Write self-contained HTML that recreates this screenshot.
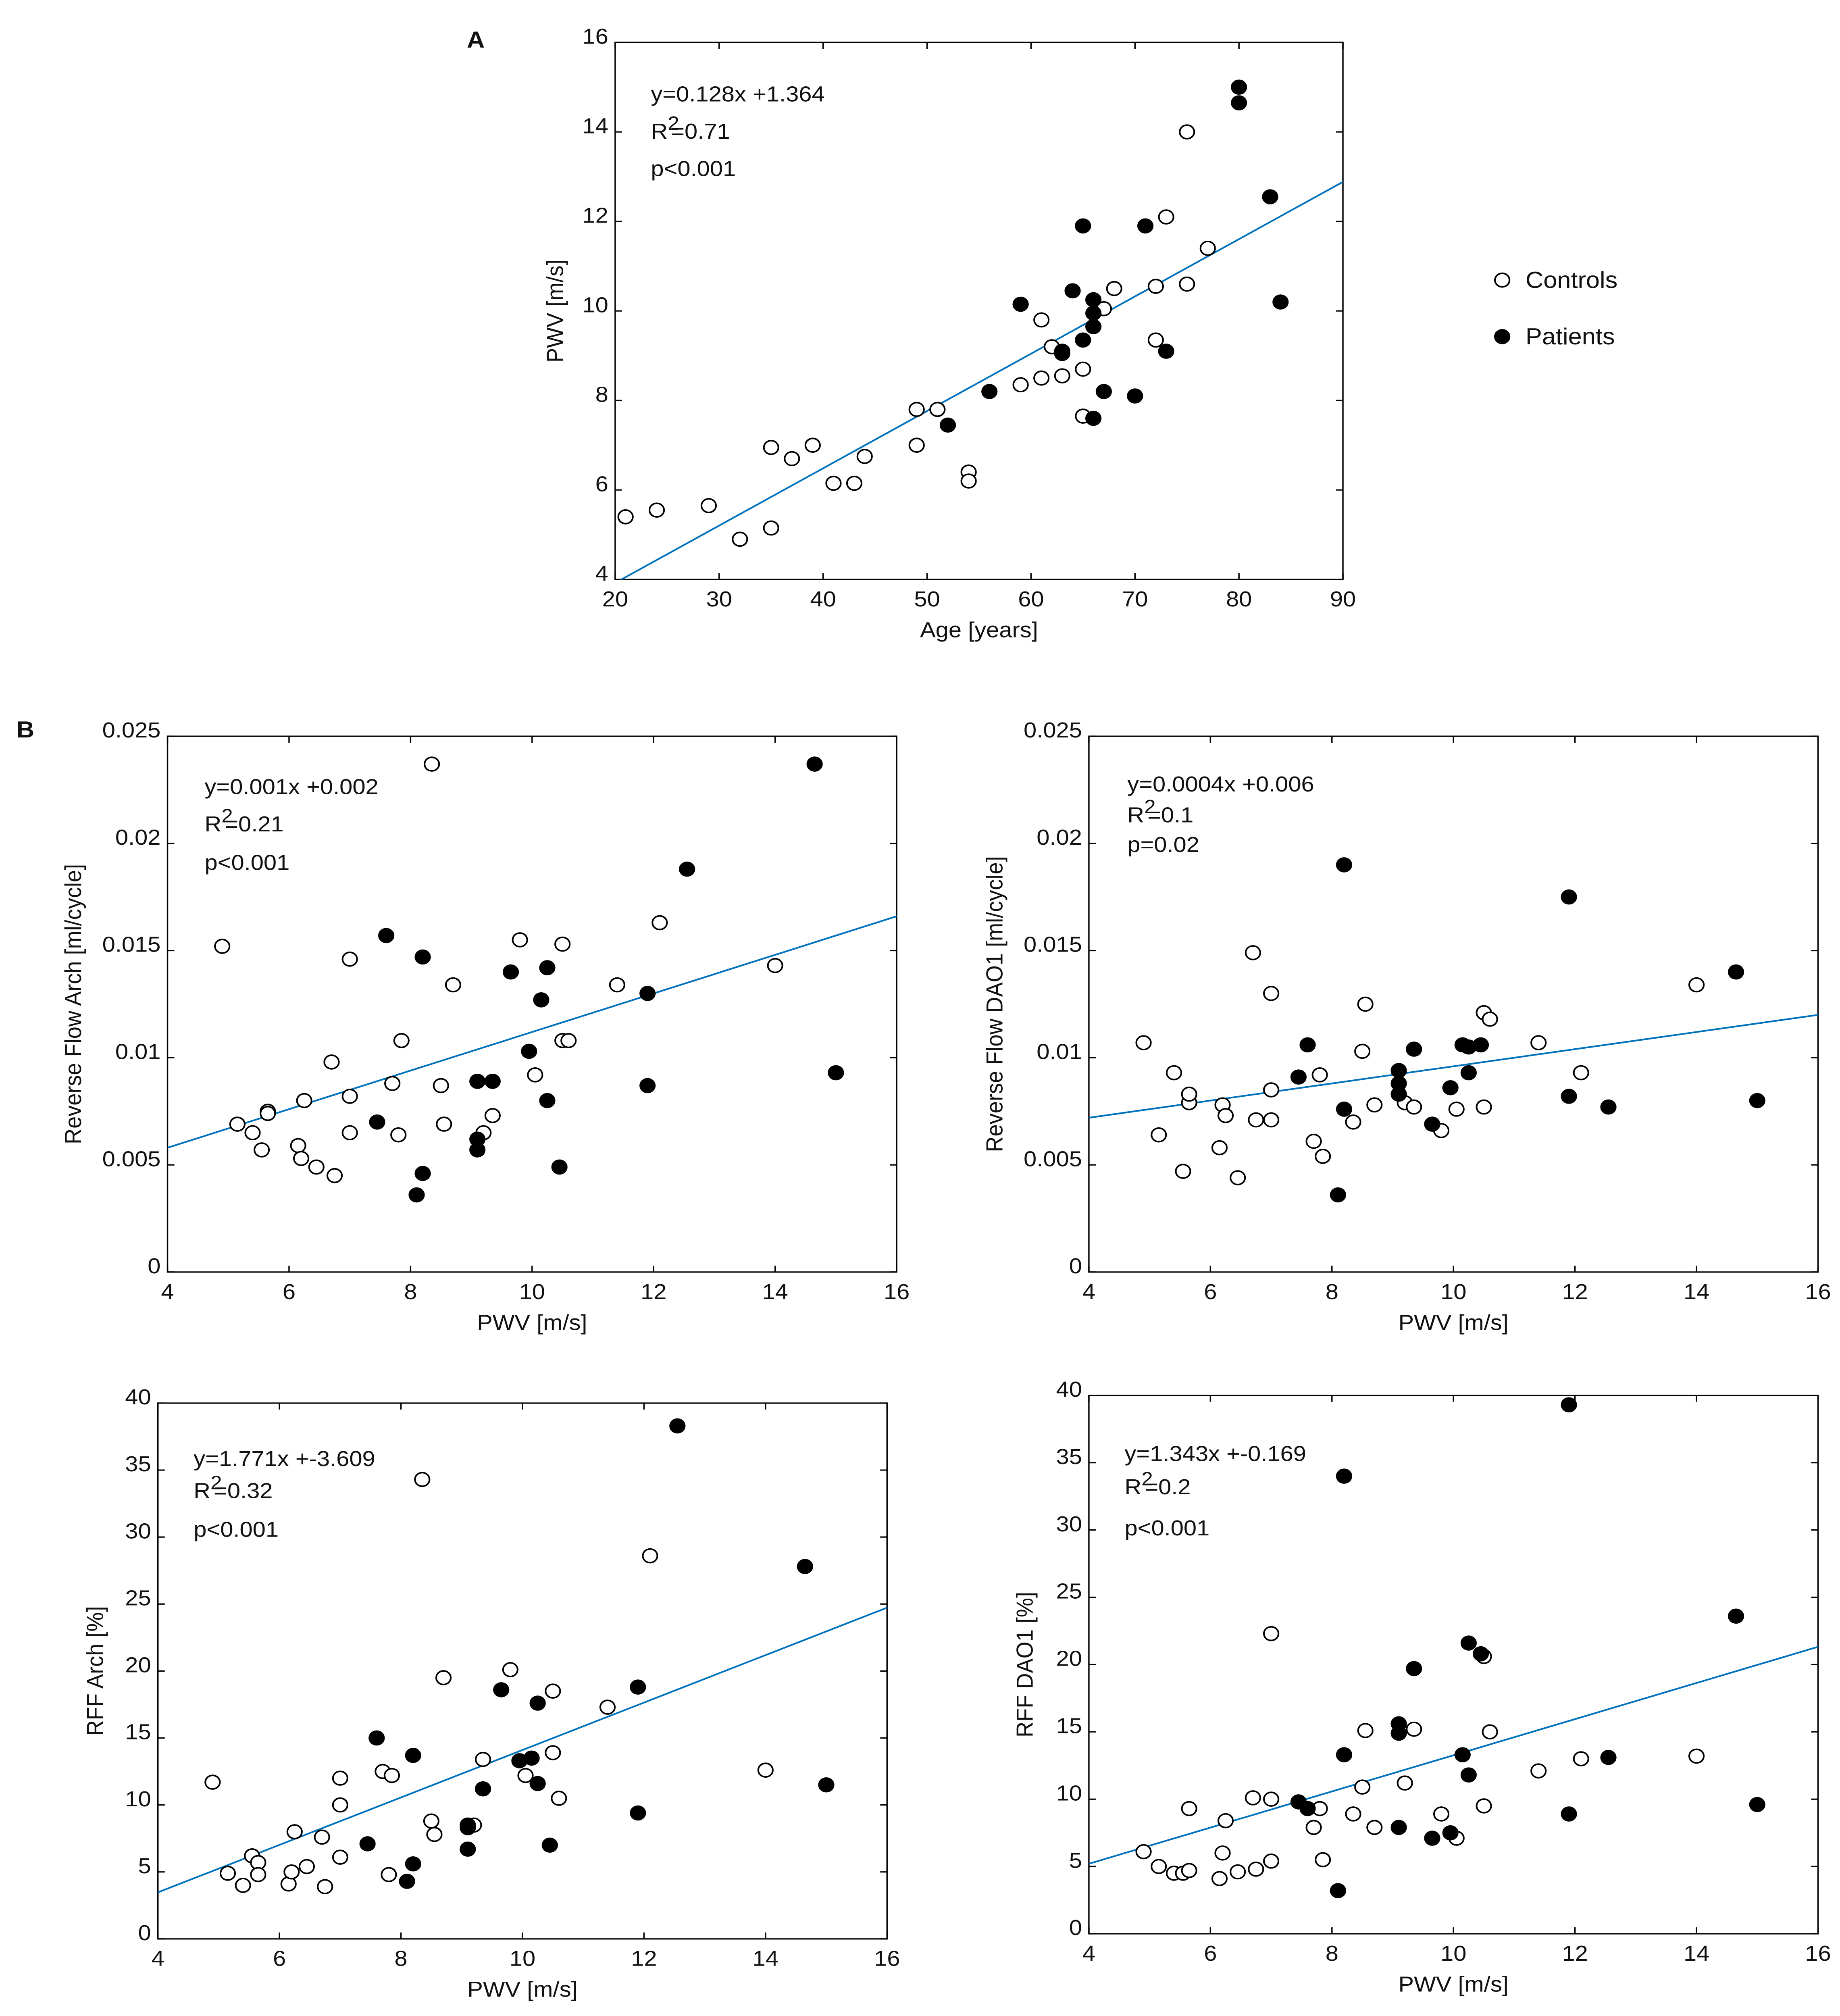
<!DOCTYPE html>
<html><head><meta charset="utf-8"><style>
html,body{margin:0;padding:0;background:#fff;overflow:hidden;width:100vw;height:100vh;}
svg{display:block;width:100vw;height:100vh;}
text{font-family:"Liberation Sans",Arial,sans-serif;fill:#111;}
</style></head><body>
<svg id="fig" viewBox="0 0 1340 1569" preserveAspectRatio="none" xmlns="http://www.w3.org/2000/svg">
<text x="340" y="37" font-size="18" font-weight="bold">A</text>
<text x="12" y="574" font-size="18" font-weight="bold">B</text>
<g>
<circle cx="1094" cy="218" r="5.3" fill="#fff" stroke="#000" stroke-width="1.2"/>
<text x="1111" y="224" font-size="18">Controls</text>
<circle cx="1094" cy="262" r="5.3" fill="#000" stroke="#000" stroke-width="1.2"/>
<text x="1111" y="268" font-size="18">Patients</text>
</g>
</svg>
<script>
// Panel A data
const aCtrlX=[21,24,29,32,35,35,37,39,41,43,44,49,49,51,54,54,59,61,61,62,63,65,65,67,68,72,72,73,75,75,77];
const aCtrlY=[5.4,5.55,5.65,4.9,5.15,6.95,6.7,7.0,6.15,6.15,6.75,7.8,7.0,7.8,6.4,6.2,8.35,9.8,8.5,9.2,8.55,8.7,7.65,10.05,10.5,10.55,9.35,12.1,14.0,10.6,11.4];
const aPatX=[52,56,59,63,63,64,65,65,66,66,66,66,67,70,71,73,80,80,83,84];
const aPatY=[7.45,8.2,10.15,9.1,9.05,10.45,11.9,9.35,10.25,9.95,9.65,7.6,8.2,8.1,11.9,9.1,15.0,14.65,12.55,10.2];
const aFit=[0.128,1.364];
const aXTicks=[20,30,40,50,60,70,80,90];
const aYTicks=[4,6,8,10,12,14,16];
// PWV (shared for panels B)
const ctrlPWV=[4.9,5.15,5.4,5.55,5.65,5.65,6.15,6.2,6.25,6.45,6.7,6.75,7.0,7.0,7.0,7.7,7.8,7.85,8.35,8.5,8.55,8.7,9.2,9.35,9.8,10.05,10.5,10.5,10.6,11.4,12.1,14.0];
const patPWV=[7.45,7.6,8.1,8.2,8.2,9.1,9.1,9.1,9.35,9.65,9.95,10.15,10.25,10.25,10.45,11.9,11.9,12.55,14.65,15.0];
const b1Ctrl=[0.0152,0.0069,0.0065,0.0057,0.0075,0.0074,0.0059,0.0053,0.0080,0.0049,0.0098,0.0045,0.0146,0.0082,0.0065,0.0088,0.0064,0.0108,0.0237,0.0087,0.0069,0.0134,0.0065,0.0073,0.0155,0.0092,0.0153,0.0108,0.0108,0.0134,0.0163,0.0143];
const b1Pat=[0.0070,0.0157,0.0036,0.0046,0.0147,0.0089,0.0062,0.0057,0.0089,0.0140,0.0103,0.0127,0.0142,0.0080,0.0049,0.0130,0.0087,0.0188,0.0237,0.0093];
const b2Ctrl=[0.0107,0.0064,0.0093,0.0047,0.0079,0.0083,0.0058,0.0078,0.0073,0.0044,0.0149,0.0071,0.0130,0.0085,0.0071,0.0061,0.0092,0.0054,0.0070,0.0103,0.0125,0.0078,0.0079,0.0077,0.0066,0.0076,0.0121,0.0077,0.0118,0.0107,0.0093,0.0134];
const b2Pat=[0.0091,0.0106,0.0036,0.0190,0.0076,0.0094,0.0088,0.0083,0.0104,0.0069,0.0086,0.0106,0.0093,0.0105,0.0106,0.0175,0.0082,0.0077,0.0140,0.0080];
const b3Ctrl=[11.7,4.9,4.0,6.2,5.7,4.8,4.1,5.0,8.0,5.4,7.6,3.9,12.0,10.0,6.1,12.5,4.8,12.2,34.3,8.8,7.8,19.5,8.5,13.4,20.1,12.2,13.9,18.5,10.5,17.3,28.6,12.6];
const b3Pat=[7.1,15.0,4.3,13.7,5.6,6.7,8.3,8.5,11.2,18.6,13.3,13.5,17.6,11.6,7.0,18.8,9.4,38.3,27.8,11.5];
const b4Ctrl=[6.1,5.0,4.5,4.5,9.3,4.7,4.1,6.0,8.4,4.6,10.1,4.8,22.3,10.0,5.4,7.9,9.3,5.5,8.9,10.9,15.1,7.9,11.2,15.2,8.9,7.1,20.6,9.5,15.0,12.1,13.0,13.2];
const b4Pat=[9.8,9.3,3.2,34.0,13.3,15.6,14.9,7.9,19.7,7.1,7.5,13.3,11.8,21.6,20.8,39.3,8.9,13.1,23.6,9.6];
const b1Fit=[0.0009,0.0022];
const b2Fit=[0.0004,0.0056];
const b3Fit=[1.771,-3.609];
const b4Fit=[1.343,-0.169];
const pwvTicks=[4,6,8,10,12,14,16];
const flowTicks=[0,0.005,0.01,0.015,0.02,0.025];
const flowTickLabels=["0","0.005","0.01","0.015","0.02","0.025"];
const rffTicks=[0,5,10,15,20,25,30,35,40];

const NS="http://www.w3.org/2000/svg";
const svg=document.getElementById('fig');
function mk(tag,attrs,parent){const e=document.createElementNS(NS,tag);for(const k in attrs)e.setAttribute(k,attrs[k]);(parent||svg).appendChild(e);return e;}

function panel(o){
  const g=mk('g',{});
  
  
  const sx=v=>o.x0+(v-o.xmin)/(o.xmax-o.xmin)*(o.x1-o.x0);
  const sy=v=>o.y1-(v-o.ymin)/(o.ymax-o.ymin)*(o.y1-o.y0);
  const cid='clip-'+o.name;
  const cp=mk('clipPath',{id:cid},g);
  mk('rect',{x:o.x0,y:o.y0,width:o.x1-o.x0,height:o.y1-o.y0},cp);
  const box=mk('rect',{x:o.x0,y:o.y0,width:o.x1-o.x0,height:o.y1-o.y0,fill:'none',stroke:'#000','stroke-width':1},g);
  
  
  o.xt.forEach(v=>{
    const x=sx(v);
    mk('line',{x1:x,x2:x,y1:o.y1,y2:o.y1-5,stroke:'#000','stroke-width':1},g);
    mk('line',{x1:x,x2:x,y1:o.y0,y2:o.y0+5,stroke:'#000','stroke-width':1},g);
    const t=mk('text',{x:x,y:o.y1+21,'font-size':17,'text-anchor':'middle'},g);
    t.textContent=String(v);
    
    
  });
  o.yt.forEach((v,i)=>{
    const y=sy(v);
    mk('line',{x1:o.x0,x2:o.x0+5,y1:y,y2:y,stroke:'#000','stroke-width':1},g);
    mk('line',{x1:o.x1,x2:o.x1-5,y1:y,y2:y,stroke:'#000','stroke-width':1},g);
    const t=mk('text',{x:o.x0-5,y:y+1,'font-size':17,'text-anchor':'end'},g);
    t.textContent=o.ytl?o.ytl[i]:String(v);
    
    
  });
  const ln=mk('line',{x1:sx(o.xmin),y1:sy(o.fit[0]*o.xmin+o.fit[1]),x2:sx(o.xmax),y2:sy(o.fit[0]*o.xmax+o.fit[1]),stroke:'#0072BD','stroke-width':1.3,'clip-path':'url(#'+cid+')'},g);
  
  
  o.cx.forEach((v,i)=>{
    const c=mk('circle',{cx:sx(v),cy:sy(o.cy[i]),r:5.3,fill:'#fff',stroke:'#000','stroke-width':1.2},g);
    
    
  });
  o.px.forEach((v,i)=>{
    const c=mk('circle',{cx:sx(v),cy:sy(o.py[i]),r:5.3,fill:'#000',stroke:'#000','stroke-width':1.2},g);
    
    
  });
  const t1=mk('text',{x:o.tx,y:o.ty[0],'font-size':17},g);t1.textContent=o.eq;
  
  
  const t2=mk('text',{x:o.tx,y:o.ty[1],'font-size':17},g);
  
  
  const a=mk('tspan',{},t2);a.textContent='R';
  const b=mk('tspan',{dy:-7,'font-size':15},t2);b.textContent='2';
  const c2=mk('tspan',{dy:7,dx:-6},t2);c2.textContent='='+o.r2;
  const t3=mk('text',{x:o.tx,y:o.ty[2],'font-size':17},g);t3.textContent=o.p;
  
  
  const xl=mk('text',{x:(o.x0+o.x1)/2,y:o.y1+45,'font-size':17,'text-anchor':'middle'},g);xl.textContent=o.xl;
  
  
  const yc=(o.y0+o.y1)/2;
  const yl=mk('text',{x:o.ylx,y:yc,'font-size':17,'text-anchor':'middle',transform:'rotate(-90 '+o.ylx+' '+yc+')'},g);yl.textContent=o.yl;
  
  
}

panel({name:'panel-a-age-vs-pwv',x0:448,x1:978,y0:33,y1:451,xmin:20,xmax:90,ymin:4,ymax:16,xt:aXTicks,yt:aYTicks,
 cx:aCtrlX,cy:aCtrlY,px:aPatX,py:aPatY,fit:aFit,eq:'y=0.128x +1.364',r2:'0.71',p:'p<0.001',tx:474,ty:[79,108,137],xl:'Age [years]',yl:'PWV [m/s]',ylx:410});
panel({name:'panel-b-reverse-flow-arch',x0:122,x1:653,y0:573,y1:990,xmin:4,xmax:16,ymin:0,ymax:0.025,xt:pwvTicks,yt:flowTicks,ytl:flowTickLabels,
 cx:ctrlPWV,cy:b1Ctrl,px:patPWV,py:b1Pat,fit:b1Fit,eq:'y=0.001x +0.002',r2:'0.21',p:'p<0.001',tx:149,ty:[618,647,677],xl:'PWV [m/s]',yl:'Reverse Flow Arch [ml/cycle]',ylx:59});
panel({name:'panel-b-reverse-flow-dao1',x0:793,x1:1324,y0:573,y1:990,xmin:4,xmax:16,ymin:0,ymax:0.025,xt:pwvTicks,yt:flowTicks,ytl:flowTickLabels,
 cx:ctrlPWV,cy:b2Ctrl,px:patPWV,py:b2Pat,fit:b2Fit,eq:'y=0.0004x +0.006',r2:'0.1',p:'p=0.02',tx:821,ty:[616,640,663],xl:'PWV [m/s]',yl:'Reverse Flow DAO1 [ml/cycle]',ylx:730});
panel({name:'panel-b-rff-arch',x0:115,x1:646,y0:1092,y1:1509,xmin:4,xmax:16,ymin:0,ymax:40,xt:pwvTicks,yt:rffTicks,
 cx:ctrlPWV,cy:b3Ctrl,px:patPWV,py:b3Pat,fit:b3Fit,eq:'y=1.771x +-3.609',r2:'0.32',p:'p<0.001',tx:141,ty:[1141,1166,1196],xl:'PWV [m/s]',yl:'RFF Arch [%]',ylx:75});
panel({name:'panel-b-rff-dao1',x0:793,x1:1324,y0:1086,y1:1505,xmin:4,xmax:16,ymin:0,ymax:40,xt:pwvTicks,yt:rffTicks,
 cx:ctrlPWV,cy:b4Ctrl,px:patPWV,py:b4Pat,fit:b4Fit,eq:'y=1.343x +-0.169',r2:'0.2',p:'p<0.001',tx:819,ty:[1137,1163,1195],xl:'PWV [m/s]',yl:'RFF DAO1 [%]',ylx:752});
</script>
</body></html>
